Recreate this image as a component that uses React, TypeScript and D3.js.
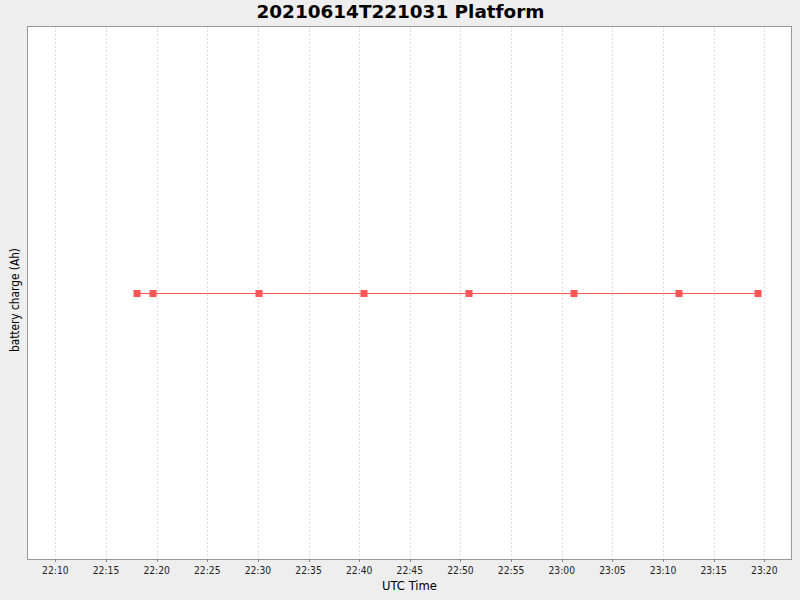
import React from "react";
import * as d3 from "d3";

const title = "20210614T221031 Platform";
const xLabel = "UTC Time";
const yLabel = "battery charge (Ah)";
const times = ["22:18:06", "22:19:41", "22:30:04", "22:40:26", "22:50:49", "23:01:12", "23:11:34", "23:19:23"];
const charges = [0, 0, 0, 0, 0, 0, 0, 0];
const domainStart = "22:07:12";
const domainEnd = "23:22:44";

const parse = (s: string) => d3.timeParse("%Y-%m-%d %H:%M:%S")("2021-06-14 " + s) as Date;

export default function App() {
  const W = 800, H = 600;
  const L = 27, R = 792, T = 26, B = 560;
  const x = d3.scaleTime().domain([parse(domainStart), parse(domainEnd)]).range([L, R]);
  const y = d3.scaleLinear().domain([-1, 1]).range([B + 1, T]);
  const ticks = x.ticks(d3.timeMinute.every(5) as any);
  const fmt = d3.timeFormat("%H:%M");
  const pts = times.map((t, i) => ({ t: parse(t), v: charges[i] }));
  const line = d3.line<{ t: Date; v: number }>().x(d => x(d.t)).y(d => y(d.v));
  const font = "'DejaVu Sans', sans-serif";
  return (
    <svg width={W} height={H} style={{ position: "absolute", left: 0, top: 0 }} fontFamily={font}>
      <rect x={0} y={0} width={W} height={H} fill="#eeeeee" />
      <rect x={L} y={T} width={R - L} height={B - T} fill="#ffffff" />
      {ticks.map((d, i) => (
        <g key={i}>
          <line x1={Math.round(x(d)) + 0.5} x2={Math.round(x(d)) + 0.5} y1={T} y2={B} stroke="#dddddd" strokeDasharray="2,2" strokeWidth={1} />
          <line x1={Math.round(x(d)) + 0.5} x2={Math.round(x(d)) + 0.5} y1={B} y2={B + 2} stroke="#888888" />
          <text x={x(d)} y={574} fontSize={10} textAnchor="middle" fill="#222" textLength={26.5} lengthAdjust="spacingAndGlyphs">{fmt(d)}</text>
        </g>
      ))}
      <rect x={L + 0.5} y={T + 0.5} width={R - L - 1} height={B - T - 1} fill="none" stroke="#999999" strokeWidth={1} />
      <path d={line(pts) || ""} fill="none" stroke="#ff5555" strokeWidth={1} />
      {pts.map((d, i) => (
        <rect key={i} x={Math.round(x(d.t)) - 3.5} y={y(d.v) - 3.5} width={7} height={7} fill="#ff5555" />
      ))}
      <text x={400.5} y={18} fontSize={18.4} fontWeight="bold" textAnchor="middle" fill="#000">{title}</text>
      <text x={(L + R) / 2} y={590} fontSize={12} textAnchor="middle" fill="#000" textLength={55} lengthAdjust="spacingAndGlyphs">{xLabel}</text>
      <text transform={`translate(19,300) rotate(-90)`} fontSize={12} textAnchor="middle" fill="#000" textLength={104} lengthAdjust="spacingAndGlyphs">{yLabel}</text>
    </svg>
  );
}
